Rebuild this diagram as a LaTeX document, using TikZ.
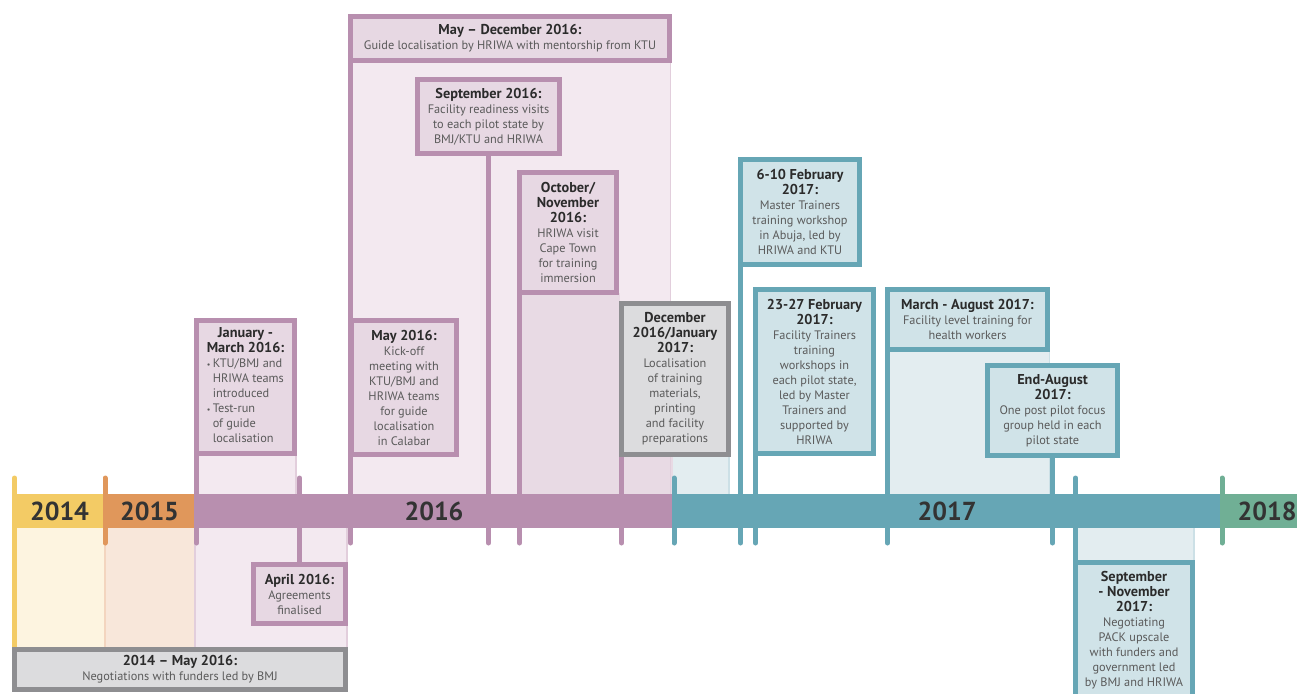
\documentclass[tikz,border=0pt]{standalone}
\usepackage{fontspec}
\setmainfont{PT Sans}
\pgfdeclarelayer{bg}
\pgfdeclarelayer{mid}
\pgfsetlayers{bg,mid,main}
\definecolor{pur}{HTML}{B88FAF}
\definecolor{purbox}{HTML}{E7D8E3}
\definecolor{purbg}{HTML}{F3E9F0}
\definecolor{purbgd}{HTML}{E8DAE4}
\definecolor{puredge}{HTML}{E2CEDC}
\definecolor{tea}{HTML}{66A6B5}
\definecolor{teabox}{HTML}{D0E3E8}
\definecolor{teabg}{HTML}{E3EDF0}
\definecolor{teaedge}{HTML}{CCE0E6}
\definecolor{gry}{HTML}{8E8E91}
\definecolor{grybox}{HTML}{DCDCDE}
\definecolor{yel}{HTML}{F3CB65}
\definecolor{yelbg}{HTML}{FDF4E0}
\definecolor{ora}{HTML}{E0975B}
\definecolor{orabg}{HTML}{F8E7DA}
\definecolor{oraedge}{HTML}{F3D5BF}
\definecolor{grn}{HTML}{70AF95}
\definecolor{ttl}{HTML}{2B2B2B}
\definecolor{bod}{HTML}{5A5A5A}
\definecolor{yrc}{HTML}{333333}
\newcommand\hd[1]{\textcolor{ttl}{\fontsize{14.3}{15}\selectfont\bfseries #1}}
\newcommand\bul{\makebox[6pt][l]{\fontsize{8}{8}\selectfont •}}
\tikzset{
 box/.style={rectangle, draw, line width=5pt, outer sep=0pt, inner sep=0pt, align=center, text=bod, font=\fontsize{12.3}{15}\selectfont},
 pbox/.style={box, draw=pur, fill=purbox},
 tbox/.style={box, draw=tea, fill=teabox},
 gbox/.style={box, draw=gry, fill=grybox},
 tick/.style={line width=5pt, line cap=round},
 yr/.style={font=\fontsize{26}{26}\selectfont\bfseries, text=yrc, inner sep=0pt},
 faint/.style={line width=1.5pt}
}
\begin{document}
\begin{tikzpicture}[x=1pt,y=-1pt]
\useasboundingbox (0,0) rectangle (1297,693);
\begin{pgfonlayer}{bg}
% shaded periods
\fill[yelbg] (14,528) rectangle (105,647);
\fill[orabg] (105,528) rectangle (194,647);
\fill[purbg] (194,528) rectangle (348,647);
\fill[purbg] (194,455) rectangle (297,494);
\fill[purbg] (350,60) rectangle (671,494);
\fill[purbgd] (520,293) rectangle (620,494);
\fill[purbgd] (622,455) rectangle (673,494);
\fill[teabg] (673,455) rectangle (730,494);
\fill[teabg] (887,350) rectangle (1050,494);
\fill[teabg] (1073,528) rectangle (1195,562);
% faint edges
\draw[faint,puredge] (670.5,63) -- (670.5,494);
\draw[faint,puredge] (296,456) -- (296,494);
\draw[faint,puredge] (347,528) -- (347,647);
\draw[faint,puredge] (195,528) -- (195,647);
\draw[faint,oraedge] (105,528) -- (105,647);
\draw[faint,teaedge] (729,455) -- (729,494);
\draw[faint,teaedge] (1049.5,352) -- (1049.5,494);
\draw[faint,teaedge] (1194,528) -- (1194,562);
% bar
\fill[yel] (14,494) rectangle (105,528);
\fill[ora] (105,494) rectangle (194,528);
\fill[pur] (194,494) rectangle (673,528);
\fill[tea] (673,494) rectangle (1222,528);
\fill[grn] (1222,494) rectangle (1297,528);
\end{pgfonlayer}

% year labels
\node[yr] (y2014) at (59.5,511) {2014};
\node[yr] (y2015) at (149.5,511) {2015};
\node[yr] (y2016) at (434,511) {2016};
\node[yr] (y2017) at (947,511) {2017};
\node[yr] (y2018) at (1267,511) {2018};

% boxes
\node[gbox, minimum width=331, minimum height=40] (neg) at (180,669.5)
 {\hd{2014 – May 2016:}\\Negotiations with funders led by BMJ};
\node[pbox, minimum width=98, minimum height=133] (jm) at (245.5,387)
 {\begin{tabular}{@{}l@{}}\multicolumn{1}{@{}c@{}}{\hd{January -}}\\
 \multicolumn{1}{@{}c@{}}{\hd{March 2016:}}\\
 \bul KTU/BMJ and\\
 \hspace*{6pt}HRIWA teams\\
 \hspace*{6pt}introduced\\
 \bul Test-run\\
 \hspace*{6pt}of guide\\
 \hspace*{6pt}localisation\end{tabular}};
\node[pbox, minimum width=92, minimum height=59] (ap) at (299.5,594)
 {\hd{April 2016:}\\Agreements\\finalised};
\node[pbox, minimum width=319, minimum height=44] (md) at (510,38.5)
 {\hd{May – December 2016:}\\Guide localisation by HRIWA with mentorship from KTU};
\node[pbox, minimum width=142, minimum height=74] (se) at (488.5,116.5)
 {\hd{September 2016:}\\Facility readiness visits\\to each pilot state by\\BMJ/KTU and HRIWA};
\node[pbox, minimum width=97, minimum height=120] (oc) at (568,232.5)
 {\hd{October/}\\\hd{November}\\\hd{2016:}\\HRIWA visit\\Cape Town\\for training\\immersion};
\node[pbox, minimum width=105, minimum height=134] (my) at (404,387.5)
 {\hd{May 2016:}\\Kick-off\\meeting with\\KTU/BMJ and\\HRIWA teams\\for guide\\localisation\\in Calabar};
\node[gbox, minimum width=107, minimum height=151] (dc) at (675,379)
 {\hd{December}\\\hd{2016/January}\\\hd{2017:}\\Localisation\\of training\\materials,\\printing\\and facility\\preparations};
\node[tbox, minimum width=119, minimum height=105] (f1) at (800,212)
 {\hd{6-10 February}\\\hd{2017:}\\Master Trainers\\training workshop\\in Abuja, led by\\HRIWA and KTU};
\node[tbox, minimum width=118, minimum height=164] (f2) at (814.5,371.5)
 {\hd{23-27 February}\\\hd{2017:}\\Facility Trainers\\training\\workshops in\\each pilot state,\\led by Master\\Trainers and\\supported by\\HRIWA};
\node[tbox, minimum width=160, minimum height=60] (ma) at (967.5,319.5)
 {\hd{March - August 2017:}\\Facility level training for\\health workers};
\node[tbox, minimum width=130, minimum height=90] (ea) at (1052.5,410.5)
 {\hd{End-August}\\\hd{2017:}\\One post pilot focus\\group held in each\\pilot state};
\node[tbox, minimum width=117, minimum height=136] (sn) at (1134,630.5)
 {\hd{September}\\\hd{- November}\\\hd{2017:}\\Negotiating\\PACK upscale\\with funders and\\government led\\by BMJ and HRIWA};

% tick end points
\coordinate (e14) at (14.5,478);
\coordinate (e105) at (105,478);
\coordinate (f105) at (105,543);
\coordinate (e196) at (196.5,543);
\coordinate (e300) at (299.5,478);
\coordinate (e351) at (350.5,543);
\coordinate (e488) at (488.5,543);
\coordinate (e520) at (519.5,543);
\coordinate (e622) at (621.5,543);
\coordinate (e674) at (674,478);
\coordinate (f674) at (674,543);
\coordinate (e741) at (740.5,543);
\coordinate (e755) at (755.5,543);
\coordinate (e887) at (887.5,543);
\coordinate (e1052) at (1052.5,543);
\coordinate (e1075) at (1075.5,478);
\coordinate (e1222) at (1222,478);
\coordinate (f1222) at (1222,543);

\begin{pgfonlayer}{mid}
\draw[tick,yel] (e14) -- (neg.north west);
\draw[tick,ora] (e105) -- (f105);
\draw[tick,pur] (jm.south west) -- (e196);
\draw[tick,pur] (e300) -- (ap.north);
\draw[tick,pur] (md.south west) -- (e351);
\draw[tick,pur] (se.south) -- (e488);
\draw[tick,pur] (oc.south west) -- (e520);
\draw[tick,pur] (dc.south west) -- (e622);
\draw[tick,tea] (e674) -- (f674);
\draw[tick,tea] (f1.south west) -- (e741);
\draw[tick,tea] (f2.south west) -- (e755);
\draw[tick,tea] (ma.south west) -- (e887);
\draw[tick,tea] (ea.south) -- (e1052);
\draw[tick,tea] (e1075) -- (sn.north west);
\draw[tick,grn] (e1222) -- (f1222);
\end{pgfonlayer}
\end{tikzpicture}
\end{document}
